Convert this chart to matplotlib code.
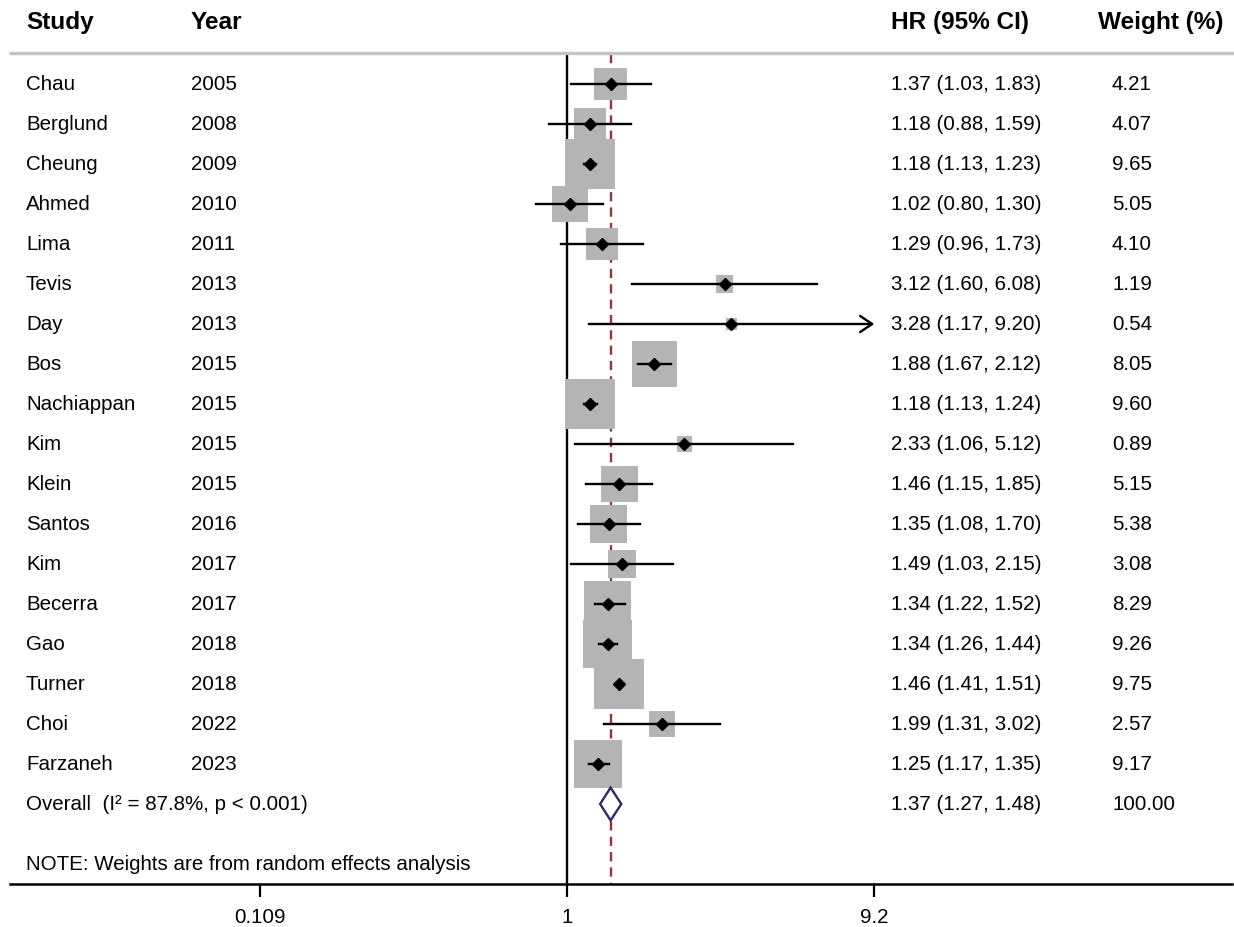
import numpy as np
import matplotlib
matplotlib.use("Agg")
import matplotlib.pyplot as plt
from matplotlib.patches import Polygon
from matplotlib.ticker import FixedLocator, FixedFormatter, NullLocator
from matplotlib.transforms import blended_transform_factory

plt.rcParams['font.family'] = ['Liberation Sans', 'DejaVu Sans']

# study data
studies = ['Chau', 'Berglund', 'Cheung', 'Ahmed', 'Lima', 'Tevis', 'Day', 'Bos',
           'Nachiappan', 'Kim', 'Klein', 'Santos', 'Kim', 'Becerra', 'Gao',
           'Turner', 'Choi', 'Farzaneh']
years = ['2005', '2008', '2009', '2010', '2011', '2013', '2013', '2015', '2015',
         '2015', '2015', '2016', '2017', '2017', '2018', '2018', '2022', '2023']
hr = [1.37, 1.18, 1.18, 1.02, 1.29, 3.12, 3.28, 1.88, 1.18, 2.33, 1.46, 1.35,
      1.49, 1.34, 1.34, 1.46, 1.99, 1.25]
ci_low = [1.03, 0.88, 1.13, 0.80, 0.96, 1.60, 1.17, 1.67, 1.13, 1.06, 1.15, 1.08,
          1.03, 1.22, 1.26, 1.41, 1.31, 1.17]
ci_high = [1.83, 1.59, 1.23, 1.30, 1.73, 6.08, 9.20, 2.12, 1.24, 5.12, 1.85, 1.70,
           2.15, 1.52, 1.44, 1.51, 3.02, 1.35]
weights = [4.21, 4.07, 9.65, 5.05, 4.10, 1.19, 0.54, 8.05, 9.60, 0.89, 5.15, 5.38,
           3.08, 8.29, 9.26, 9.75, 2.57, 9.17]

# pooled estimate
overall_hr = 1.37
overall_low = 1.27
overall_high = 1.48
overall_weight = '100.00'
overall_label = 'Overall  (I\u00b2 = 87.8%, p < 0.001)'
note = 'NOTE: Weights are from random effects analysis'

xticks = [0.109, 1, 9.2]
xtick_labels = ['0.109', '1', '9.2']

fs = 14.8
head_fs = 17.6
box_color = '#b4b3b6'
ref_red = '#93343c'
navy = '#2c2c5c'

fig = plt.figure(figsize=(12.34, 9.27), dpi=100)
ax = fig.add_axes([0, 0, 1, 1])
ax.set_xscale('log')
ax.set_xlim(0.016637, 123.75)
ax.set_ylim(21.075, -2.1)

n = len(studies)
rows = np.arange(n)
overall_row = n
axis_row = n + 2

# reference lines at 1 and at the pooled HR
ax.plot([1, 1], [-0.75, axis_row], color='black', lw=1.7, zorder=1)
ax.plot([overall_hr, overall_hr], [-0.75, axis_row], color=ref_red, lw=1.7,
        dashes=(3.9, 2.6), zorder=1)

# weight boxes
ax.scatter(hr, rows, s=132.9 * np.array(weights), marker='s', color=box_color,
           linewidths=0, zorder=2)

# confidence intervals (arrow when it runs past the axis)
for i in range(n):
    if ci_high[i] >= xticks[-1]:
        ax.annotate('', xy=(xticks[-1], i), xytext=(ci_low[i], i),
                    arrowprops=dict(arrowstyle='->,head_length=0.43,head_width=0.29',
                                    color='black', lw=1.7, mutation_scale=20,
                                    shrinkA=0, shrinkB=0), zorder=3)
    else:
        ax.plot([ci_low[i], ci_high[i]], [i, i], color='black', lw=1.7, zorder=3)

ax.plot(hr, rows, linestyle='none', marker='D', markersize=6,
        color='black', zorder=4)

# pooled diamond
diamond = Polygon([(overall_low, overall_row), (overall_hr, overall_row - 0.41),
                   (overall_high, overall_row), (overall_hr, overall_row + 0.41)],
                  closed=True, facecolor='white', edgecolor=navy, lw=1.7, zorder=4)
ax.add_patch(diamond)

# text columns
tr = blended_transform_factory(ax.transAxes, ax.transData)
col_study = 26 / 1234
col_year = 191 / 1234
col_hr = 891 / 1234
col_wt_head = 1098 / 1234
col_wt = 1112 / 1234

head_row = -1.55
for x, label in [(col_study, 'Study'), (col_year, 'Year'),
                 (col_hr, 'HR (95% CI)'), (col_wt_head, 'Weight (%)')]:
    ax.text(x, head_row, label, transform=tr, fontsize=head_fs,
            fontweight='bold', va='center')

ax.plot([9 / 1234, 1], [-0.775, -0.775], transform=tr, color='#c4c4c4', lw=2.4,
        solid_capstyle='butt', clip_on=False)

for i in range(n):
    ax.text(col_study, i, studies[i], transform=tr, fontsize=fs, va='center')
    ax.text(col_year, i, years[i], transform=tr, fontsize=fs, va='center')
    ax.text(col_hr, i, f'{hr[i]:.2f} ({ci_low[i]:.2f}, {ci_high[i]:.2f})',
            transform=tr, fontsize=fs, va='center')
    ax.text(col_wt, i, f'{weights[i]:.2f}', transform=tr, fontsize=fs, va='center')

ax.text(col_study, overall_row, overall_label, transform=tr, fontsize=fs, va='center')
ax.text(col_hr, overall_row, f'{overall_hr:.2f} ({overall_low:.2f}, {overall_high:.2f})',
        transform=tr, fontsize=fs, va='center')
ax.text(col_wt, overall_row, overall_weight, transform=tr, fontsize=fs, va='center')
ax.text(col_study, overall_row + 1.5, note, transform=tr, fontsize=fs, va='center')

# bottom axis
for side in ['top', 'left', 'right']:
    ax.spines[side].set_visible(False)
ax.spines['bottom'].set_position(('data', axis_row))
ax.spines['bottom'].set_bounds(0.01789, 121.97)
ax.spines['bottom'].set_linewidth(1.8)
ax.xaxis.set_major_locator(FixedLocator(xticks))
ax.xaxis.set_major_formatter(FixedFormatter(xtick_labels))
ax.xaxis.set_minor_locator(NullLocator())
ax.tick_params(axis='x', direction='out', length=9.4, width=1.6, pad=8, labelsize=fs)
ax.set_yticks([])

fig.savefig('out.png', dpi=100)
